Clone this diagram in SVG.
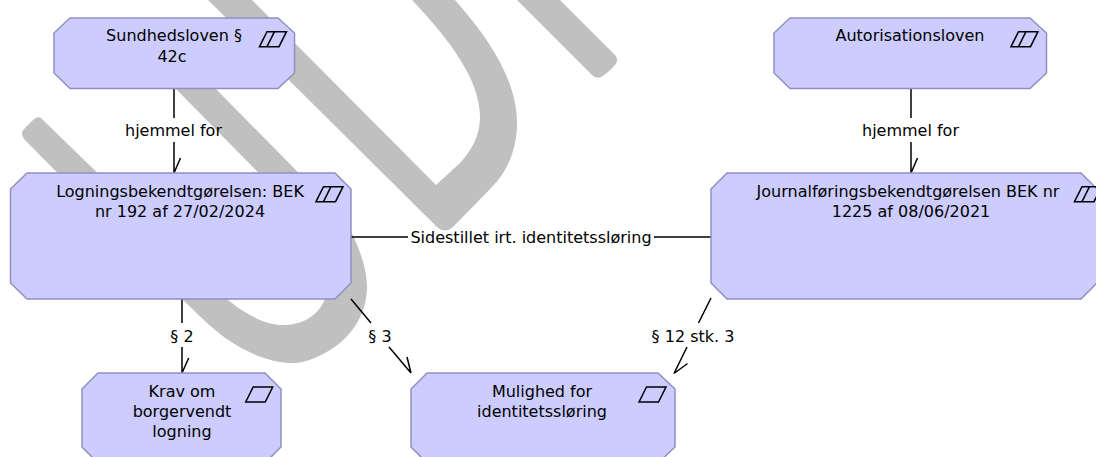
<svg xmlns="http://www.w3.org/2000/svg" xmlns:xlink="http://www.w3.org/1999/xlink" width="1096" height="457" viewBox="0 0 1096 457">
<style>
text{font-family:"DejaVu Sans",Verdana,sans-serif;font-size:16px;fill:#000;text-anchor:middle}
.n{fill:#ccccff;stroke:#9090c0;stroke-width:1.5}
.i{fill:none;stroke:#000;stroke-width:1.5}
.c{fill:none;stroke:#000;stroke-width:1.5}
.w{fill:#c0c0c0}
</style>
<defs>
<path id="p1" class="i" d="M0 15L7.500 0H27L19.500 15Z"/>
<path id="p2" class="i" d="M0 15L7.500 0H27L19.500 15ZM7.500 15L15 0"/>
</defs>
<rect width="1096" height="457" fill="#fff"/>
<g id="watermark">
<path class="w" d="M517 0H560L615 55Q619 60 615 65Q608 73 601 77Q596 79 592 75Z"/>
<path class="w" d="M208 0H252L436 185L460 163C472 150 480 135 480 117C480 80 450 40 412 0H455C495 45 517 85 517 123C517 150 507 172 492 187L453 227Q445 234 437 227Z"/>
<path class="w" d="M41 118L227 299C240 310 262 325 283 325C300 325 317 318 325 299L320 260L310 225L175 88L165 60H205L215 88L345 220C358 243 367 268 367 287C367 315 350 340 325 353C310 361 300 363 293 363C272 363 250 354 233 343C215 332 200 316 183 300L24 139Q20 133 24 129L33 120Q37 116 41 118Z"/>
</g>
<g id="connectors">
<path class="c" d="M174 88V118M174 142V173M174 173L180.500 158"/>
<path class="c" d="M911 88V118M911 142V173M911 173L917.500 158"/>
<path class="c" d="M351 237H408M654 237H711"/>
<path class="c" d="M182 299V323M182 347V373M182 373L188.700 358"/>
<path class="c" d="M351 299L371 323M389 347L411 373M411 373L407 357"/>
<path class="c" d="M711 298L698.500 323M687 347L674 373.500M674 373.500L687.500 363.500"/>
<text x="173.500" y="136">hjemmel for</text>
<text x="910.500" y="136">hjemmel for</text>
<text x="531" y="243">Sidestillet irt. identitetssløring</text>
<text x="182" y="341.500">§ 2</text>
<text x="380" y="341.500">§ 3</text>
<text x="693" y="341.500">§ 12 stk. 3</text>
</g>
<g id="sundhedsloven">
<path class="n" d="M70 18H278L294.500 33V73L278 88.500H70L54 73V33Z"/>
<use xlink:href="#p2" href="#p2" x="259.500" y="31.700"/>
<text x="174" y="41">Sundhedsloven §</text>
<text x="172" y="61.500">42c</text>
</g>
<g id="autorisationsloven">
<path class="n" d="M790 18H1030L1046.500 33V73L1030 88.500H790L774 73V33Z"/>
<use xlink:href="#p2" href="#p2" x="1011" y="31.700"/>
<text x="910" y="41">Autorisationsloven</text>
</g>
<g id="logning">
<path class="n" d="M27 173H335L351 189V283L335 299H27L10.500 283V189Z"/>
<use xlink:href="#p2" href="#p2" x="316" y="186.700"/>
<text x="180" y="197">Logningsbekendtgørelsen: BEK</text>
<text x="180" y="216.500">nr 192 af 27/02/2024</text>
</g>
<g id="journal">
<path class="n" d="M727 173H1081L1097 189V283L1081 299H727L711 283V189Z"/>
<use xlink:href="#p2" href="#p2" x="1074.500" y="186.700"/>
<text x="908" y="197">Journalføringsbekendtgørelsen BEK nr</text>
<text x="911" y="216.500">1225 af 08/06/2021</text>
</g>
<g id="krav">
<path class="n" d="M98 373H265L281 389V447L265 463H98L82 447V389Z"/>
<use xlink:href="#p1" href="#p1" x="245.700" y="387"/>
<text x="182" y="397">Krav om</text>
<text x="182" y="417">borgervendt</text>
<text x="182" y="437">logning</text>
</g>
<g id="mulighed">
<path class="n" d="M427 373H658L675 389V447L658 463H427L411 447V389Z"/>
<use xlink:href="#p1" href="#p1" x="639" y="387"/>
<text x="542" y="397">Mulighed for</text>
<text x="542" y="417">identitetssløring</text>
</g>
</svg>
